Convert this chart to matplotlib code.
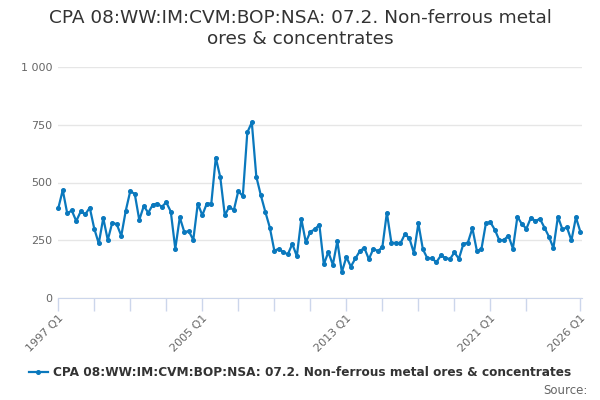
import matplotlib
matplotlib.use("Agg")
import matplotlib.pyplot as plt
from matplotlib.lines import Line2D

# Quarterly values, 1997 Q1 .. 2026 Q1
series_name = "CPA 08:WW:IM:CVM:BOP:NSA: 07.2. Non-ferrous metal ores & concentrates"
start_year = 1997
values = [
    388, 467, 366, 379, 333, 375, 362, 391, 300, 236, 346, 251, 326, 319, 269, 378,
    463, 450, 338, 398, 369, 404, 409, 395, 414, 374, 213, 349, 286, 289, 252, 409,
    358, 409, 409, 608, 522, 358, 395, 380, 463, 441, 717, 760, 525, 445, 373, 305,
    205, 213, 199, 189, 234, 181, 342, 241, 287, 297, 318, 146, 199, 144, 246, 112,
    177, 136, 171, 203, 217, 168, 213, 203, 220, 369, 240, 238, 236, 276, 259, 195,
    323, 211, 172, 172, 155, 184, 174, 168, 197, 170, 234, 240, 302, 204, 211, 323,
    328, 295, 249, 251, 270, 214, 352, 320, 300, 348, 333, 343, 305, 266, 216, 352,
    297, 306, 249, 349, 286,
]
labelled_quarters = ["1997 Q1", "2005 Q1", "2013 Q1", "2021 Q1", "2026 Q1"]
y_ticks = [0, 250, 500, 750, 1000]

quarters = [f"{start_year + i // 4} Q{i % 4 + 1}" for i in range(len(values))]
x = list(range(len(values)))

blue = "#0a78bd"
grey_text = "#666666"
axis_col = "#ccd6eb"

fig = plt.figure(figsize=(6, 4), dpi=100)
ax = fig.add_axes([57.8 / 600, 1 - 298 / 400, (582 - 57.8) / 600, (298 - 67) / 400])

ax.plot(x, values, color=blue, lw=1.6, marker="o", ms=2.6, clip_on=False, zorder=3)

ax.set_xlim(-0.1, len(values) - 1 + 0.35)
ax.set_ylim(0, 1000)

# y axis: grid lines only, labels with space as thousands separator
ax.set_yticks(y_ticks)
ax.set_yticklabels([f"{v:,}".replace(",", " ") for v in y_ticks])
ax.yaxis.grid(True, color="#e6e6e6", lw=1)
ax.tick_params(axis="y", length=0, pad=4, labelsize=8, labelcolor=grey_text)

# x axis ticks every 8 quarters plus the last one
tick_pos = [i for i in x if i % 8 == 0 and i < len(values) - 8] + [len(values) - 1]
ax.set_xticks(tick_pos)
ax.set_xticklabels([q if q in labelled_quarters else "" for q in (quarters[i] for i in tick_pos)],
                   rotation=45, ha="right", rotation_mode="anchor")
ax.tick_params(axis="x", length=9, width=1, color=axis_col, labelsize=8,
               labelcolor=grey_text, pad=2)

for s in ["top", "right", "left"]:
    ax.spines[s].set_visible(False)
ax.spines["bottom"].set_color(axis_col)
ax.set_axisbelow(True)

fig.text(0.5, 0.977, "CPA 08:WW:IM:CVM:BOP:NSA: 07.2. Non-ferrous metal\nores & concentrates",
         ha="center", va="top", fontsize=13.3, color="#333333", linespacing=1.2)

handle = Line2D([0], [0], color=blue, lw=1.6, marker="o", ms=2.6)
leg = fig.legend([handle], [series_name], loc="center", bbox_to_anchor=(0.5, 1 - 373 / 400),
                 frameon=False, handlelength=1.6, handletextpad=0.4,
                 prop={"weight": "bold", "size": 8.7})
for t in leg.get_texts():
    t.set_color("#333333")

fig.text(588 / 600, 1 - 390 / 400, "Source:", ha="right", va="center", fontsize=8.5, color=grey_text)

fig.savefig("out.png", dpi=100)
